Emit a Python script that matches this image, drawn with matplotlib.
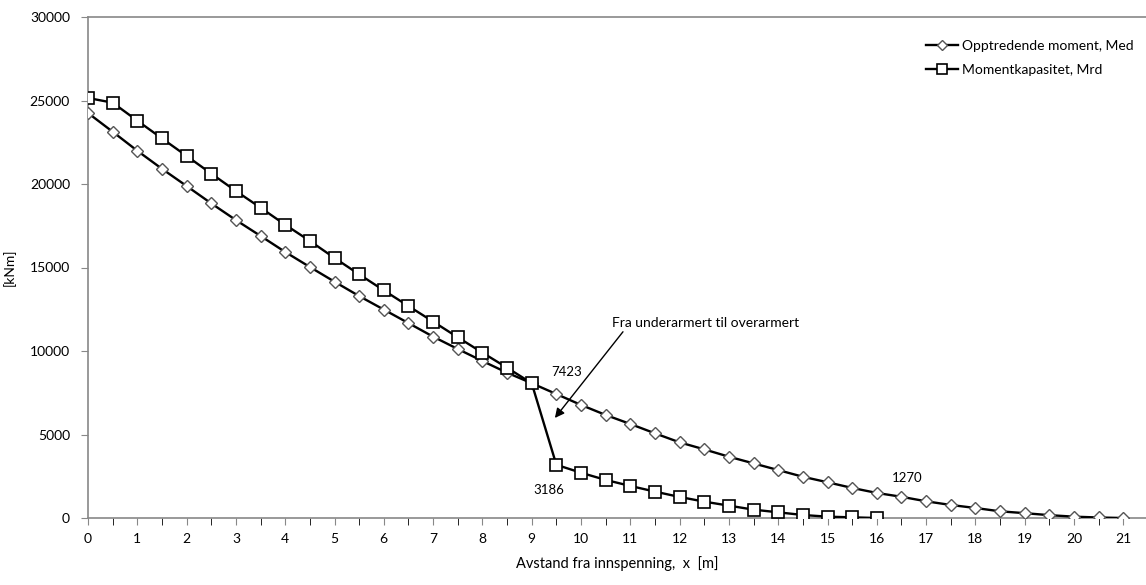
import matplotlib
matplotlib.use("Agg")
import matplotlib.pyplot as plt
import numpy as np

plt.rcParams["font.family"] = ["Lato", "DejaVu Sans"]

# Opptredende moment, Med (kNm), x = 0 .. 21 m in 0.5 m steps
x_med = np.arange(0, 21.01, 0.5)
med = [24250, 23130, 21990, 20910, 19880, 18840, 17840, 16890, 15930, 15030,
       14150, 13290, 12480, 11670, 10860, 10120, 9400, 8700, 8070, 7423,
       6770, 6170, 5630, 5070, 4530, 4110, 3670, 3270, 2870, 2470,
       2140, 1800, 1500, 1270, 1000, 780, 600, 400, 290, 170,
       80, 30, 0]

# Momentkapasitet, Mrd (kNm), x = 0 .. 16 m
x_mrd = np.arange(0, 16.01, 0.5)
mrd = [25150, 24870, 23790, 22730, 21680, 20620, 19580, 18580, 17560, 16590,
       15570, 14590, 13630, 12690, 11760, 10820, 9900, 9000, 8070, 3186,
       2710, 2280, 1920, 1580, 1260, 980, 740, 500, 340, 180,
       80, 40, 0]

fig = plt.figure(figsize=(11.46, 5.85), dpi=100)
ax = fig.add_axes([88 / 1146, 67 / 585, 1 - 88 / 1146, 501 / 585])

ax.plot(x_med, med, color="black", lw=1.7, marker="D", ms=6,
        mfc="white", mec="#555555", mew=1.0, label="Opptredende moment, Med", zorder=3)
ax.plot(x_mrd, mrd, color="black", lw=1.7, marker="s", ms=9,
        mfc="white", mec="black", mew=1.2, label="Momentkapasitet, Mrd", zorder=4)

ax.set_xlim(0, 21.46)
ax.set_ylim(0, 30000)
ax.set_xticks(np.arange(0, 22, 1))
ax.set_xticks(np.arange(0, 21.5, 0.5), minor=True)
ax.set_yticks(np.arange(0, 30001, 5000))
ax.tick_params(axis="both", labelsize=10, color="#888888", direction="out")
ax.tick_params(axis="x", which="both", length=5, pad=6)
ax.tick_params(axis="y", length=5, pad=8)

for s in ("left", "bottom", "top"):
    ax.spines[s].set_color("#888888")
    ax.spines[s].set_linewidth(1.2)
ax.spines["right"].set_visible(False)

ax.set_ylabel("[kNm]", fontsize=10, labelpad=10)
ax.set_xlabel("Avstand fra innspenning,  x  [m]", fontsize=10.5, labelpad=8)

ax.text(9.39, 8742, "7423", fontsize=9.5, va="center")
ax.text(9.03, 1677, "3186", fontsize=9.5, va="center")
ax.text(16.31, 2395, "1270", fontsize=9.5, va="center")
ax.annotate("Fra underarmert til overarmert", xy=(9.47, 5990), xytext=(10.63, 11677),
            fontsize=10, va="center", ha="left",
            arrowprops=dict(arrowstyle="-|>", color="black", lw=1.0,
                            shrinkA=0, shrinkB=0, mutation_scale=14,
                            relpos=(0.07, 0.0)))

ax.legend(loc="upper right", bbox_to_anchor=(1.0, 0.98), frameon=False,
          fontsize=10, handlelength=2.3, handletextpad=0.3, labelspacing=0.9,
          markerscale=0.8)

fig.savefig("out.png", dpi=100)
